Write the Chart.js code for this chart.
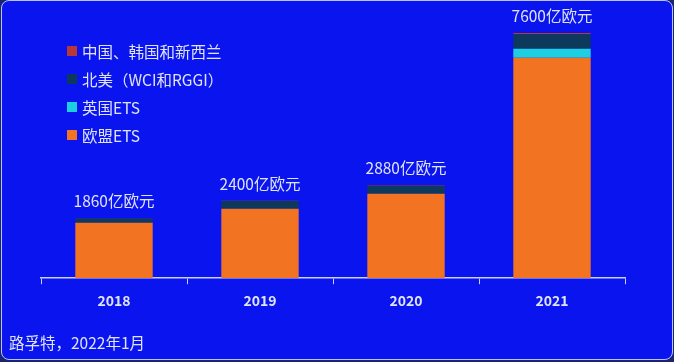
<!DOCTYPE html>
<html>
<head>
<meta charset="utf-8">
<title>碳市场规模</title>
<script src="https://cdn.jsdelivr.net/npm/chart.js"></script>
<style>
  html, body { margin: 0; padding: 0; background: #1b2470; }
  #wrap {
    position: absolute; left: 1px; top: 0; width: 670px; height: 358px;
    background: #0a14ef; border: 1.5px solid #b9c2ff; border-radius: 8px;
    overflow: hidden;
  }
  canvas { position: absolute; left: -1px; top: 0; }
</style>
</head>
<body>
<div id="wrap"><canvas id="myChart" width="674" height="362"></canvas></div>
<script>
    // 年份和各市场规模（亿欧元）
    var years = ['2018', '2019', '2020', '2021'];
    var euEts = [1720, 2150, 2620, 6830];
    var ukEts = [0, 0, 0, 280];
    var northAmerica = [130, 240, 245, 460];
    var chinaKoreaNz = [10, 10, 15, 30];
    var totals = [1860, 2400, 2880, 7600];
    var sourceText = '路孚特，2022年1月';

    var textColor = '#dfe4f8';
    var fontFamily = '"Noto Sans CJK SC", "Noto Sans", sans-serif';

    // 柱顶总额 + 图例 + 来源
    var overlay = {
        id: 'overlay',
        afterDatasetsDraw: function(chart) {
            var ctx = chart.ctx;
            var top = chart.getDatasetMeta(chart.data.datasets.length - 1);
            ctx.save();
            ctx.fillStyle = textColor;
            ctx.font = '15.5px ' + fontFamily;
            ctx.textAlign = 'center';
            ctx.textBaseline = 'middle';
            top.data.forEach(function(bar, i) {
                ctx.fillText(totals[i] + '亿欧元', bar.x, bar.y - 17);
            });

            // 图例（倒序）
            ctx.textAlign = 'left';
            var ds = chart.data.datasets.slice().reverse();
            ds.forEach(function(d, i) {
                var y = 50 + i * 28;
                ctx.fillStyle = d.backgroundColor;
                ctx.fillRect(66, y - 5, 10, 10);
                ctx.fillStyle = textColor;
                ctx.fillText(d.label, 81, y + 1);
            });

            ctx.fillText(sourceText, 8, 342);
            ctx.restore();
        }
    };

    var ctx = document.getElementById('myChart').getContext('2d');
    var chart = new Chart(ctx, {
        type: 'bar',
        data: {
            labels: years,
            datasets: [
                { label: '欧盟ETS', data: euEts, backgroundColor: '#f27322' },
                { label: '英国ETS', data: ukEts, backgroundColor: '#1cd0e2' },
                { label: '北美（WCI和RGGI）', data: northAmerica, backgroundColor: '#0d3a5c' },
                { label: '中国、韩国和新西兰', data: chinaKoreaNz, backgroundColor: '#b8383a' }
            ]
        },
        options: {
            responsive: false,
            animation: false,
            layout: { padding: { left: 40, right: 50, top: 32, bottom: 46 } },
            datasets: { bar: { barPercentage: 1, categoryPercentage: 0.53 } },
            plugins: { legend: { display: false }, tooltip: { enabled: false } },
            scales: {
                x: {
                    stacked: true,
                    offset: true,
                    border: { color: '#c9d0ff', width: 1.5 },
                    grid: { offset: true, drawOnChartArea: false, drawTicks: true, tickLength: 6, color: '#c9d0ff' },
                    ticks: { color: textColor, padding: 8, font: { family: fontFamily, size: 14, weight: 'bold' } }
                },
                y: {
                    stacked: true,
                    display: false,
                    min: 0,
                    max: 7600
                }
            }
        },
        plugins: [overlay]
    });
</script>
</body>
</html>
